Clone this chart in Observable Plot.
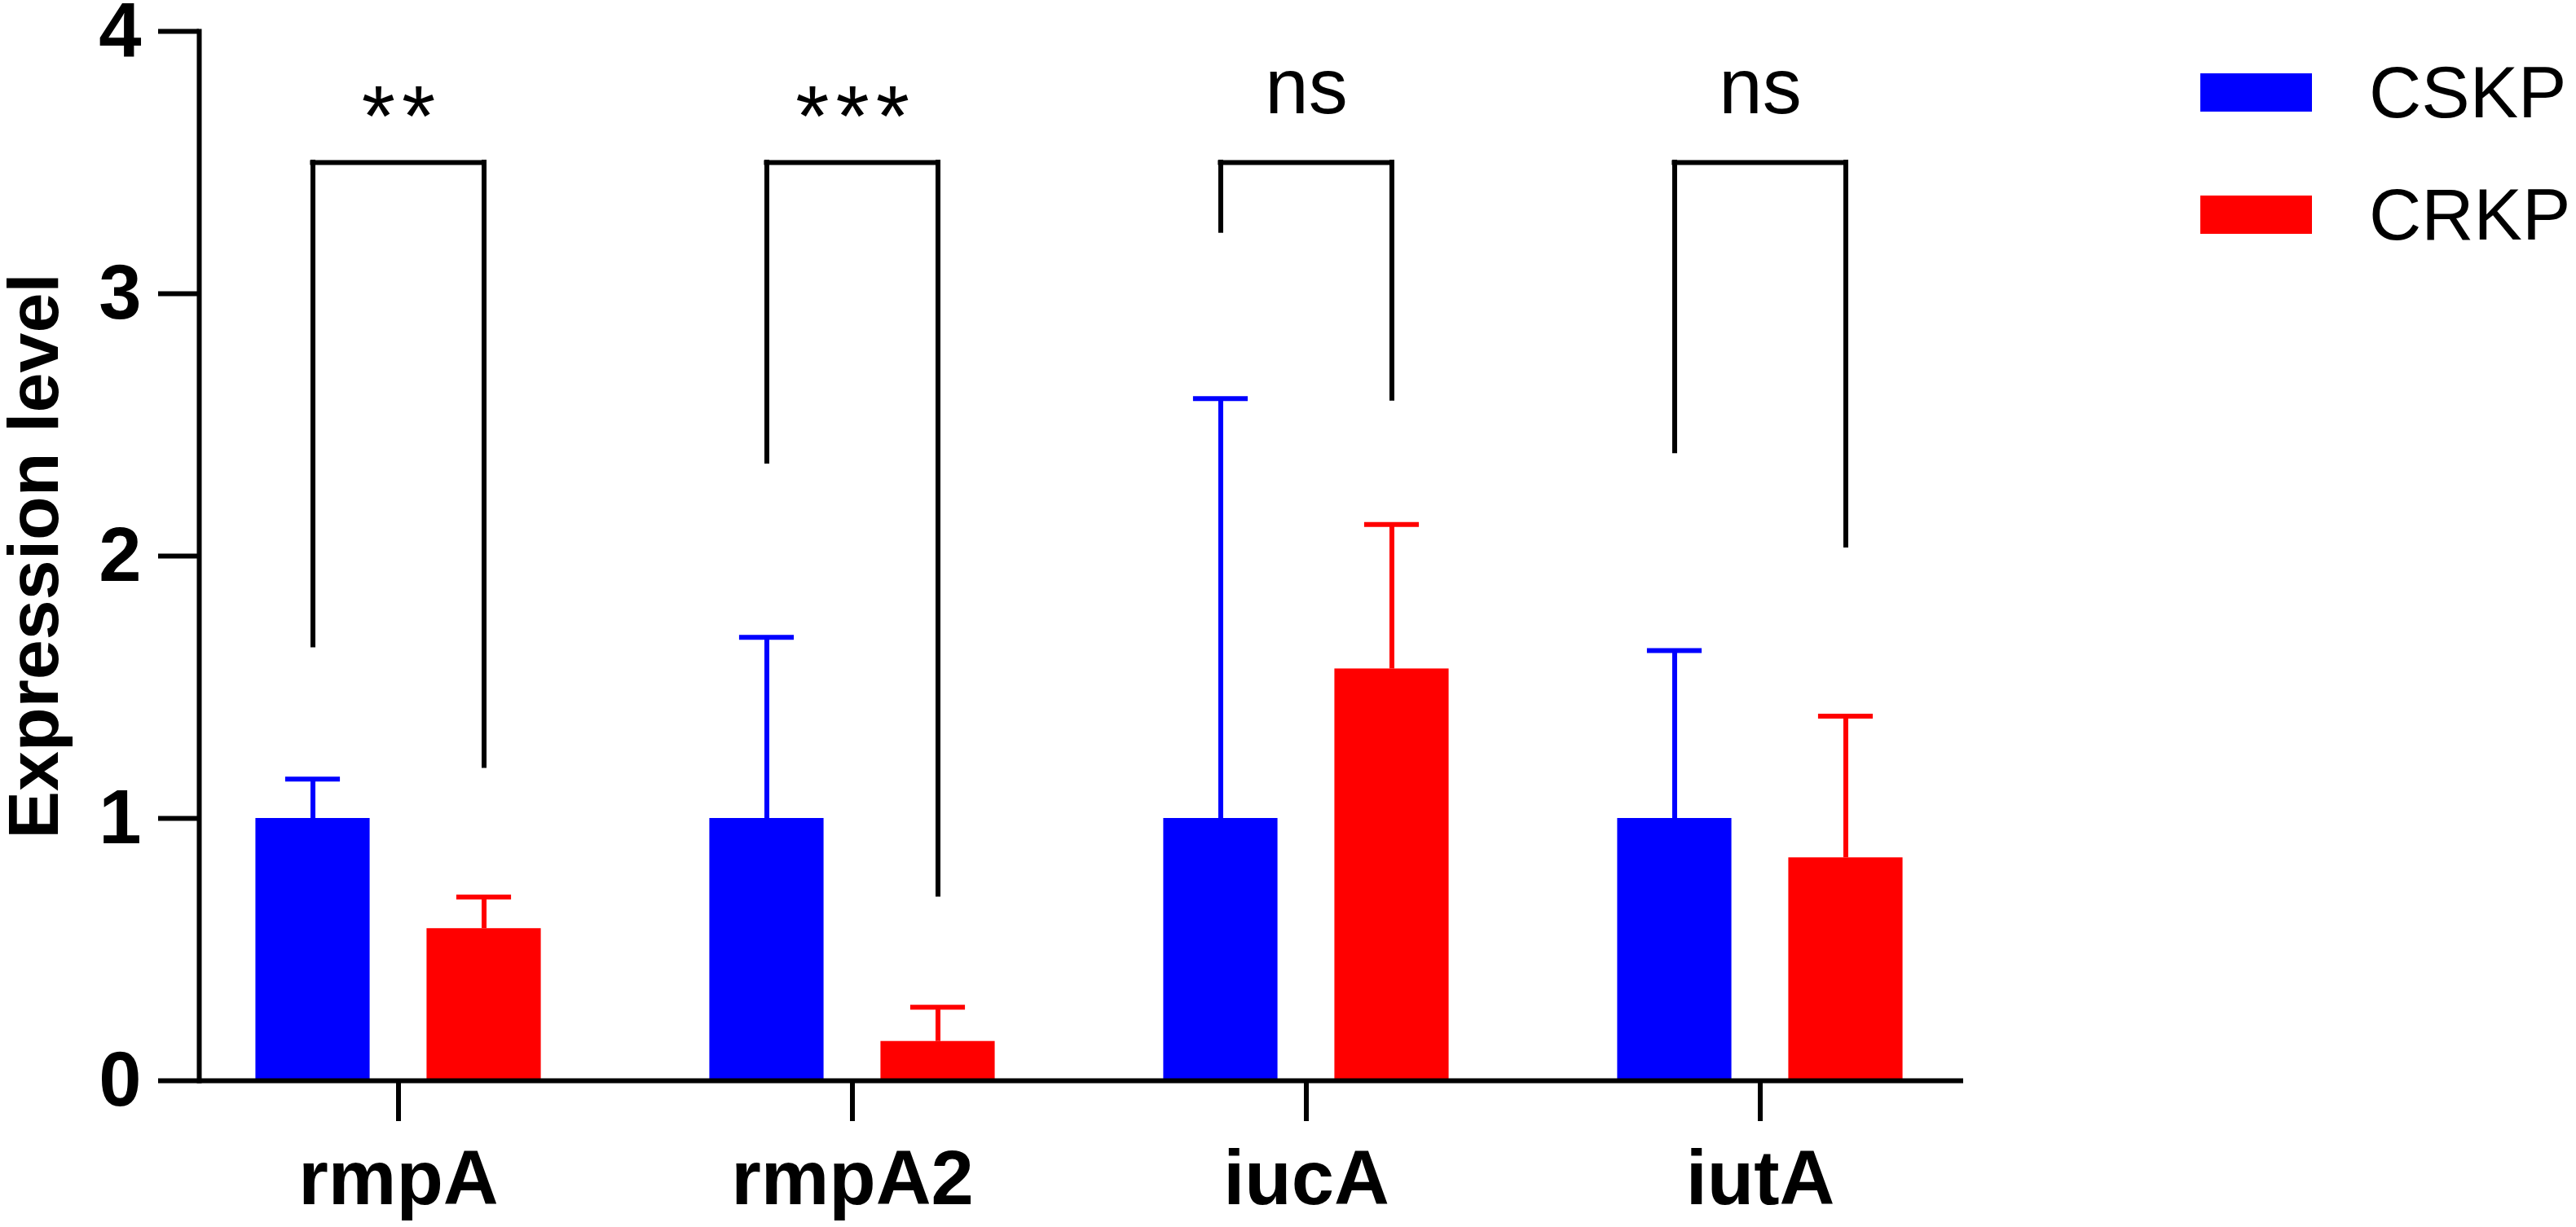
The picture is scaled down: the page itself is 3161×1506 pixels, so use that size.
<!DOCTYPE html>
<html>
<head>
<meta charset="utf-8">
<script src="https://cdn.jsdelivr.net/npm/d3@7"></script>
<script src="https://cdn.jsdelivr.net/npm/@observablehq/plot@0.6"></script>
<style>
  html, body { margin: 0; padding: 0; background: #fff; }
  #wrap { position: relative; width: 3161px; height: 1506px; overflow: hidden; }
  #legend { position: absolute; left: 2700px; top: 90px; font-family: "Liberation Sans", Arial, sans-serif; }
  .item { display: flex; align-items: center; height: 47px; margin-bottom: 103px; }
  .sw { width: 137px; height: 47px; margin-right: 70px; flex: none; }
  .lab { font-size: 89px; line-height: 1; white-space: nowrap; color: #000; }
</style>
</head>
<body>
<div id="wrap"></div>
<script>
// ---- data ----
const genes = ["rmpA", "rmpA2", "iucA", "iutA"];
const groups = ["CSKP", "CRKP"];
const groupColors = ["#0000ff", "#ff0000"];
const cskpMean = [1.00, 1.00, 1.00, 1.00];
const cskpUpper = [1.15, 1.69, 2.60, 1.64];
const crkpMean = [0.58, 0.15, 1.57, 0.85];
const crkpUpper = [0.70, 0.28, 2.12, 1.39];
const sigLabels = ["**", "***", "ns", "ns"];
const bracketTop = [3.5, 3.5, 3.5, 3.5];
const bracketLeftEnd = [1.66, 2.36, 3.24, 2.40];
const bracketRightEnd = [1.20, 0.71, 2.60, 2.04];
const yTicks = [0, 1, 2, 3, 4];

// ---- tables built from the arrays ----
const cskp = genes.map((g, i) => ({gene: g, group: groups[0], mean: cskpMean[i], upper: cskpUpper[i]}));
const crkp = genes.map((g, i) => ({gene: g, group: groups[1], mean: crkpMean[i], upper: crkpUpper[i]}));
const brackets = genes.map((g, i) => ({gene: g, label: sigLabels[i], top: bracketTop[i], left: bracketLeftEnd[i], right: bracketRightEnd[i]}));

// ---- layout (styles) ----
const W = 3161, H = 1506;
const mLeft = 244, mTop = 38, mBottom = 180, mRight = W - 2409;
const xRange = [244, 2403];
const padIn = 0.5, padOut = 0.1857;
const step = (xRange[1] - xRange[0]) / (genes.length - padIn + 2 * padOut);
const bw = step * (1 - padIn);
const off = 105;          // half distance between paired bars
const barW = 140, capW = 67;
const barInset = (bw - barW) / 2;
const capInset = (bw - capW) / 2;
const brInset = (bw - 2 * off) / 2;
const sw = 6, ew = 6;

const color = {domain: groups, range: groupColors};

const chart = Plot.plot({
  width: W,
  height: H,
  marginLeft: mLeft,
  marginRight: mRight,
  marginTop: mTop,
  marginBottom: mBottom,
  style: {background: "#fff", fontFamily: "'Liberation Sans', Arial, sans-serif", color: "#000", overflow: "visible"},
  x: {type: "band", domain: genes, range: xRange, paddingInner: padIn, paddingOuter: padOut},
  y: {domain: [0, 4]},
  color,
  marks: [
    // bars
    Plot.barY(cskp, {x: "gene", y: "mean", fill: "group", dx: -off, insetLeft: barInset, insetRight: barInset}),
    Plot.barY(crkp, {x: "gene", y: "mean", fill: "group", dx: off, insetLeft: barInset, insetRight: barInset}),
    // error bars
    Plot.ruleX(cskp, {x: "gene", y1: "mean", y2: "upper", stroke: "group", strokeWidth: ew, dx: -off}),
    Plot.ruleX(crkp, {x: "gene", y1: "mean", y2: "upper", stroke: "group", strokeWidth: ew, dx: off}),
    Plot.tickY(cskp, {x: "gene", y: "upper", stroke: "group", strokeWidth: ew, dx: -off, insetLeft: capInset, insetRight: capInset}),
    Plot.tickY(crkp, {x: "gene", y: "upper", stroke: "group", strokeWidth: ew, dx: off, insetLeft: capInset, insetRight: capInset}),
    // significance brackets
    Plot.ruleX(brackets, {x: "gene", y1: "left", y2: "top", stroke: "#000", strokeWidth: sw, dx: -off, strokeLinecap: "square"}),
    Plot.ruleX(brackets, {x: "gene", y1: "right", y2: "top", stroke: "#000", strokeWidth: sw, dx: off, strokeLinecap: "square"}),
    Plot.tickY(brackets, {x: "gene", y: "top", stroke: "#000", strokeWidth: sw, insetLeft: brInset, insetRight: brInset, strokeLinecap: "square"}),
    Plot.text(brackets.filter(d => d.label.startsWith("*")), {x: "gene", y: "top", text: "label", fontSize: 106, dy: -54, dx: 4, lineAnchor: "middle", fill: "#000", className: "stars"}),
    Plot.text(brackets.filter(d => !d.label.startsWith("*")), {x: "gene", y: "top", text: "label", fontSize: 96, dy: -91, lineAnchor: "middle", fill: "#000"}),
    // axes
    Plot.ruleY([0], {stroke: "#000", strokeWidth: sw}),
    Plot.frame({anchor: "left", stroke: "#000", strokeWidth: sw}),
    Plot.axisY({ticks: yTicks, tickFormat: d3.format("d"), tickSize: 50, tickPadding: 21, fontSize: 94, fontWeight: "bold", strokeWidth: sw, stroke: "#000", fill: "#000", label: null}),
    Plot.axisX({tickSize: 50, tickPadding: 35, fontSize: 94, fontWeight: "bold", strokeWidth: sw, stroke: "#000", fill: "#000", label: null}),
    Plot.text(["Expression level"], {frameAnchor: "left", rotate: -90, dx: -174, textAnchor: "middle", lineAnchor: "bottom", fontSize: 88, fontWeight: "bold", fill: "#000"})
  ]
});

// widen the spacing between asterisks as in the reference
d3.select(chart).selectAll("g.stars text").style("letter-spacing", "8px");

const wrap = document.getElementById("wrap");
wrap.appendChild(chart);

// legend from the same groups / colours
const legend = document.createElement("div");
legend.id = "legend";
groups.forEach((g, i) => {
  const item = document.createElement("div");
  item.className = "item";
  const s = document.createElement("div");
  s.className = "sw";
  s.style.background = groupColors[i];
  const t = document.createElement("span");
  t.className = "lab";
  t.textContent = g;
  item.appendChild(s);
  item.appendChild(t);
  legend.appendChild(item);
});
wrap.appendChild(legend);
</script>
</body>
</html>
